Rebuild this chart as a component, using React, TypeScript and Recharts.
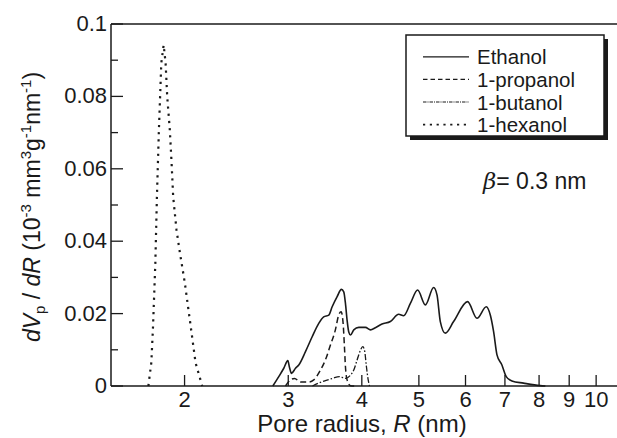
import { LineChart, Line, XAxis, YAxis, ReferenceLine, Label } from "recharts"

// pore radius (nm) and dVp/dR values
const ETHANOL_R = [
    2.824, 2.891, 2.948, 2.995, 3.014, 3.038, 3.086, 3.126, 3.209, 3.294, 3.38, 3.446,
    3.515, 3.562, 3.632, 3.693, 3.727, 3.752, 3.776, 3.801, 3.826, 3.876, 3.953, 4.057,
    4.138, 4.218, 4.329, 4.472, 4.62, 4.711, 4.836, 4.976, 5.128, 5.297, 5.368, 5.437,
    5.544, 5.727, 6.049, 6.275, 6.508, 6.611, 6.697, 6.786, 6.918, 7.036, 7.194, 7.528,
    8.035, 8.2,
]
const ETHANOL_V = [
    0, 0.0026, 0.0049, 0.007, 0.0052, 0.0035, 0.0049, 0.0058, 0.0095, 0.0136, 0.0173, 0.0191,
    0.0196, 0.0219, 0.0247, 0.0267, 0.026, 0.0228, 0.0182, 0.0149, 0.0141, 0.0155, 0.0162, 0.0162,
    0.0155, 0.0161, 0.0171, 0.0178, 0.0198, 0.0194, 0.0228, 0.0265, 0.0224, 0.0272, 0.0251, 0.0178,
    0.0146, 0.0178, 0.0233, 0.0187, 0.0219, 0.0196, 0.015, 0.0086, 0.0058, 0.0026, 0.0014, 0.0008,
    0.0001, 0,
]

const PROPANOL_R = [
    2.968, 3.026, 3.074, 3.147, 3.247, 3.315, 3.403, 3.469, 3.538, 3.607, 3.654, 3.689,
    3.718, 3.737, 3.752, 3.776, 3.826, 3.901,
]
const PROPANOL_V = [
    0, 0.0017, 0.0021, 0.0011, 0.0011, 0.0017, 0.0044, 0.0072, 0.0113, 0.0155, 0.0196, 0.0205,
    0.0173, 0.0109, 0.0053, 0.0017, 0.0001, 0,
]

const BUTANOL_R = [
    3.298, 3.376, 3.469, 3.566, 3.665, 3.752, 3.826, 3.876, 3.927, 3.979, 4.015, 4.046,
    4.073, 4.101, 4.122,
]
const BUTANOL_V = [
    0, 0.0008, 0.0015, 0.0021, 0.0026, 0.0021, 0.003, 0.0044, 0.0072, 0.0099, 0.0109, 0.0095,
    0.0053, 0.0017, 0,
]

const HEXANOL_R = [
    1.736, 1.756, 1.767, 1.784, 1.795, 1.809, 1.826, 1.843, 1.857, 1.869, 1.888, 1.901,
    1.913, 1.938, 1.963, 2.002, 2.045, 2.088, 2.143,
]
const HEXANOL_V = [
    0, 0.0064, 0.0155, 0.034, 0.0522, 0.0707, 0.0892, 0.0942, 0.0892, 0.0798, 0.0707, 0.0616,
    0.0522, 0.0431, 0.037, 0.0285, 0.0174, 0.0064, 0,
]

const X_TICKS = [2, 3, 4, 5, 6, 7, 8, 9, 10]
const X_TICK_LABELS = ["2", "3", "4", "5", "6", "7", "8", "9", "10"]
const Y_TICKS = [0, 0.01, 0.02, 0.03, 0.04, 0.05, 0.06, 0.07, 0.08, 0.09, 0.1]
const Y_TICK_LABELS = ["0", "", "0.02", "", "0.04", "", "0.06", "", "0.08", "", "0.1"]

const SERIES = ["Ethanol", "1-propanol", "1-butanol", "1-hexanol"]
const DASHES = ["", "6 3.5", "6 2 1.5 2", "2.2 5"]
const LEGEND_DASHES = ["", "4.5 3", "3.5 1 1 1", "2.2 4.6"]

const FONT = '"Liberation Sans", Arial, Helvetica, sans-serif'
const INK = "#1a1a1a"
const PLOT_LEFT = 111
const PLOT_BOTTOM = 386

const zip = (r: number[], v: number[]) => r.map((x, i) => ({ r: x, v: v[i] }))

const ethanol = zip(ETHANOL_R, ETHANOL_V)
const propanol = zip(PROPANOL_R, PROPANOL_V)
const butanol = zip(BUTANOL_R, BUTANOL_V)
const hexanol = zip(HEXANOL_R, HEXANOL_V)

const YTick = (props: any) => {
    const { y, payload } = props
    const i = Y_TICKS.findIndex((t) => Math.abs(t - payload.value) < 1e-9)
    const label = Y_TICK_LABELS[i] ?? ""
    const major = label !== ""
    return (
        <g>
            <line x1={PLOT_LEFT} x2={PLOT_LEFT + (major ? 12 : 7)} y1={y} y2={y} stroke={INK} strokeWidth={1.3} />
            {major && (
                <text x={PLOT_LEFT - 4} y={y + 7} textAnchor="end" fontSize={22} fontFamily={FONT} fill={INK}>
                    {label}
                </text>
            )}
        </g>
    )
}

const XTick = (props: any) => {
    const { x, payload } = props
    const i = X_TICKS.indexOf(payload.value)
    return (
        <g>
            <line x1={x} x2={x} y1={PLOT_BOTTOM} y2={PLOT_BOTTOM - 11} stroke={INK} strokeWidth={1.3} />
            <text x={x} y={407} textAnchor="middle" fontSize={22} fontFamily={FONT} fill={INK}>
                {X_TICK_LABELS[i]}
            </text>
        </g>
    )
}

const XTitle = (props: any) => {
    const vb = props.viewBox || { x: PLOT_LEFT, width: 506 }
    return (
        <text x={vb.x + vb.width / 2 - 2} y={432} textAnchor="middle" fontSize={24} fontFamily={FONT} fill={INK}>
            Pore radius, <tspan fontStyle="italic">R</tspan> (nm)
        </text>
    )
}

const YTitle = (props: any) => {
    const vb = props.viewBox || { y: 24, height: 362 }
    const cx = 40
    const cy = vb.y + vb.height / 2 + 2
    const sup = { fontSize: 15, dy: -9 }
    return (
        <text
            transform={`rotate(-90 ${cx} ${cy})`}
            x={cx}
            y={cy}
            textAnchor="middle"
            fontSize={23}
            fontFamily={FONT}
            fill={INK}
        >
            <tspan fontStyle="italic">dV</tspan>
            <tspan fontSize={15} dy={5}>p</tspan>
            <tspan dy={-5}>{" / "}</tspan>
            <tspan fontStyle="italic">dR</tspan>
            <tspan>{" (10"}</tspan>
            <tspan {...sup}>-3</tspan>
            <tspan dy={9}>{" mm"}</tspan>
            <tspan {...sup}>3</tspan>
            <tspan dy={9}>g</tspan>
            <tspan {...sup}>-1</tspan>
            <tspan dy={9}>nm</tspan>
            <tspan {...sup}>-1</tspan>
            <tspan dy={9}>)</tspan>
        </text>
    )
}

export default function App() {
    return (
        <div style={{ position: "absolute", left: 0, top: 0, width: 617, height: 438, background: "#fff" }}>
            <LineChart width={617} height={438} margin={{ top: 24, right: 0, bottom: 0, left: 0 }}>
                <XAxis
                    dataKey="r"
                    type="number"
                    scale="log"
                    domain={[1.5, 10.85]}
                    allowDataOverflow
                    ticks={X_TICKS}
                    interval={0}
                    height={52}
                    tickLine={false}
                    tick={<XTick />}
                    axisLine={{ stroke: INK, strokeWidth: 1.5 }}
                >
                    <Label content={<XTitle />} />
                </XAxis>
                <YAxis
                    type="number"
                    domain={[0, 0.1]}
                    ticks={Y_TICKS}
                    interval={0}
                    width={111}
                    tickLine={false}
                    tick={<YTick />}
                    axisLine={{ stroke: INK, strokeWidth: 1.5 }}
                >
                    <Label content={<YTitle />} />
                </YAxis>
                <ReferenceLine y={0.1} stroke={INK} strokeWidth={1.5} />

                <Line data={ethanol} dataKey="v" type="monotone" stroke={INK} strokeWidth={1.6} dot={false} isAnimationActive={false} />
                <Line data={propanol} dataKey="v" type="monotone" stroke={INK} strokeWidth={1.5} strokeDasharray={DASHES[1]} dot={false} isAnimationActive={false} />
                <Line data={butanol} dataKey="v" type="monotone" stroke={INK} strokeWidth={1.3} strokeDasharray={DASHES[2]} dot={false} isAnimationActive={false} />
                <Line data={hexanol} dataKey="v" type="linear" stroke={INK} strokeWidth={2.2} strokeDasharray={DASHES[3]} dot={false} isAnimationActive={false} />
            </LineChart>

            {/* legend box + beta note */}
            <svg width={617} height={438} style={{ position: "absolute", left: 0, top: 0, pointerEvents: "none" }}>
                <rect x={410} y={39} width={198} height={101} fill={INK} />
                <rect x={406} y={35} width={198} height={101} fill="#fff" stroke={INK} strokeWidth={1.5} />
                {SERIES.map((name, i) => {
                    const base = 64.3 + i * 22.6
                    return (
                        <g key={name}>
                            <line
                                x1={423}
                                x2={469}
                                y1={base - 7.5}
                                y2={base - 7.5}
                                stroke={INK}
                                strokeWidth={i === 3 ? 1.8 : 1.2}
                                strokeDasharray={LEGEND_DASHES[i]}
                            />
                            <text x={477} y={base} fontSize={20.5} fontFamily={FONT} fill={INK}>
                                {name}
                            </text>
                        </g>
                    )
                })}
                <text x={483} y={188.5} fontSize={23} fontFamily={FONT} fill={INK}>
                    <tspan fontFamily='"DejaVu Serif", serif' fontStyle="italic">β</tspan>= 0.3 nm
                </text>
            </svg>
        </div>
    )
}
